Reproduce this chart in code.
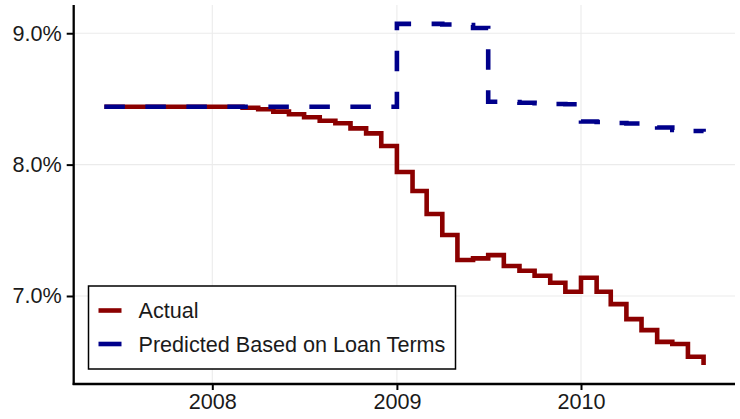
<!DOCTYPE html>
<html>
<head>
<meta charset="utf-8">
<script src="https://cdn.jsdelivr.net/npm/d3@7"></script>
<style>
    body { margin: 0; background: #fff; }
    svg { display: block; font-family: "Liberation Sans", Arial, sans-serif; }
</style>
</head>
<body>
<div id="chart"></div>
<script>
// monthly data, June 2007 to September 2010
var months = [
    "2007-06", "2007-07", "2007-08", "2007-09", "2007-10", "2007-11", "2007-12",
    "2008-01", "2008-02", "2008-03", "2008-04", "2008-05", "2008-06",
    "2008-07", "2008-08", "2008-09", "2008-10", "2008-11", "2008-12",
    "2009-01", "2009-02", "2009-03", "2009-04", "2009-05", "2009-06",
    "2009-07", "2009-08", "2009-09", "2009-10", "2009-11", "2009-12",
    "2010-01", "2010-02", "2010-03", "2010-04", "2010-05", "2010-06",
    "2010-07", "2010-08", "2010-09"
];
var actual = [
    8.44, 8.44, 8.44, 8.44, 8.44, 8.44, 8.44,
    8.44, 8.44, 8.433, 8.421, 8.403, 8.383,
    8.360, 8.334, 8.315, 8.276, 8.238, 8.142,
    7.944, 7.799, 7.624, 7.464, 7.274, 7.286,
    7.311, 7.228, 7.192, 7.154, 7.101, 7.032,
    7.139, 7.032, 6.938, 6.824, 6.740, 6.651,
    6.634, 6.537, 6.474
];
var predicted = [
    8.441, 8.441, 8.441, 8.441, 8.441, 8.441, 8.441,
    8.441, 8.441, 8.441, 8.441, 8.441, 8.441,
    8.441, 8.441, 8.441, 8.441, 8.441, 8.441,
    9.071, 9.071, 9.071, 9.067, 9.063, 9.040,
    8.479, 8.477, 8.471, 8.467, 8.461, 8.459,
    8.328, 8.324, 8.317, 8.313, 8.298, 8.283,
    8.264, 8.256, 8.251
];
var seriesNames = ["Actual", "Predicted Based on Loan Terms"];
var seriesColors = ["#8b0000", "#00008b"];
var yTicks = [7, 8, 9];
var xTickYears = [2008, 2009, 2010];

var width = 740;
var height = 419;
var panel = { left: 73.7, right: 735, top: 5, bottom: 384 };
var fontSize = "21.6px";

var parseMonth = d3.timeParse("%Y-%m");

function plot() {
    var svg = d3
        .select("#chart")
        .append("svg")
        .attr("width", width)
        .attr("height", height);

    // x scale anchored on the year ticks, then stretched to the panel edges
    var x = d3
        .scaleTime()
        .domain([new Date(2008, 0, 1), new Date(2010, 0, 1)])
        .range([212.3, 581]);
    x.domain([x.invert(panel.left), x.invert(panel.right)])
        .range([panel.left, panel.right]);

    var y = d3
        .scaleLinear()
        .domain([6.33, 9.215])
        .range([panel.bottom, panel.top]);

    var xTicks = xTickYears.map((yr) => new Date(yr, 0, 1));

    // grid
    svg.append("g")
        .selectAll("line")
        .data(yTicks)
        .enter()
        .append("line")
        .attr("x1", panel.left)
        .attr("x2", panel.right)
        .attr("y1", (d) => y(d))
        .attr("y2", (d) => y(d))
        .attr("stroke", "#ebebeb")
        .attr("stroke-width", 1.1);
    svg.append("g")
        .selectAll("line")
        .data(xTicks)
        .enter()
        .append("line")
        .attr("x1", (d) => x(d))
        .attr("x2", (d) => x(d))
        .attr("y1", panel.top)
        .attr("y2", panel.bottom)
        .attr("stroke", "#ebebeb")
        .attr("stroke-width", 1.1);

    // lines
    var rows = months.map((m, i) => ({
        date: parseMonth(m),
        actual: actual[i],
        predicted: predicted[i]
    }));
    var keys = ["actual", "predicted"];
    keys.forEach(function (k, i) {
        var line = d3
            .line()
            .curve(d3.curveStepAfter)
            .x((d) => x(d.date))
            .y((d) => y(d[k]));
        svg.append("path")
            .datum(rows)
            .attr("d", line)
            .attr("fill", "none")
            .attr("stroke", seriesColors[i])
            .attr("stroke-width", 4.6)
            .attr("stroke-linejoin", "miter")
            .attr("stroke-dasharray", k == "predicted" ? "20.5,20.5" : null);
    });

    // axes
    var yAxis = d3
        .axisLeft(y)
        .tickValues(yTicks)
        .tickSize(7)
        .tickPadding(5)
        .tickFormat((d) => d.toFixed(1) + "%");
    var xAxis = d3
        .axisBottom(x)
        .tickValues(xTicks)
        .tickSize(6)
        .tickPadding(4)
        .tickFormat(d3.timeFormat("%Y"));

    var gy = svg.append("g")
        .attr("transform", `translate(${panel.left},0)`)
        .call(yAxis);
    var gx = svg.append("g")
        .attr("transform", `translate(0,${panel.bottom})`)
        .call(xAxis);
    [gx, gy].forEach(function (g) {
        g.select(".domain").remove();
        g.selectAll(".tick line").attr("stroke", "#000").attr("stroke-width", 2);
        g.selectAll(".tick text")
            .attr("fill", "#1a1a1a")
            .style("font-size", fontSize);
    });

    svg.append("line")
        .attr("x1", panel.left)
        .attr("x2", panel.left)
        .attr("y1", panel.top)
        .attr("y2", panel.bottom + 1)
        .attr("stroke", "#000")
        .attr("stroke-width", 2.3);
    svg.append("line")
        .attr("x1", panel.left - 1)
        .attr("x2", panel.right)
        .attr("y1", panel.bottom)
        .attr("y2", panel.bottom)
        .attr("stroke", "#000")
        .attr("stroke-width", 2.3);

    // legend
    var legend = svg.append("g").attr("transform", "translate(88.5,286)");
    legend.append("rect")
        .attr("width", 367)
        .attr("height", 83)
        .attr("fill", "#fff")
        .attr("stroke", "#000")
        .attr("stroke-width", 1.5);
    seriesNames.forEach(function (name, i) {
        var ly = 24.5 + i * 33.5;
        legend.append("line")
            .attr("x1", 10)
            .attr("x2", 33)
            .attr("y1", ly)
            .attr("y2", ly)
            .attr("stroke", seriesColors[i])
            .attr("stroke-width", 4.6);
        legend.append("text")
            .attr("x", 50)
            .attr("y", ly)
            .attr("dy", "0.36em")
            .attr("fill", "#1a1a1a")
            .style("font-size", fontSize)
            .text(name);
    });
}

plot();
</script>
</body>
</html>
